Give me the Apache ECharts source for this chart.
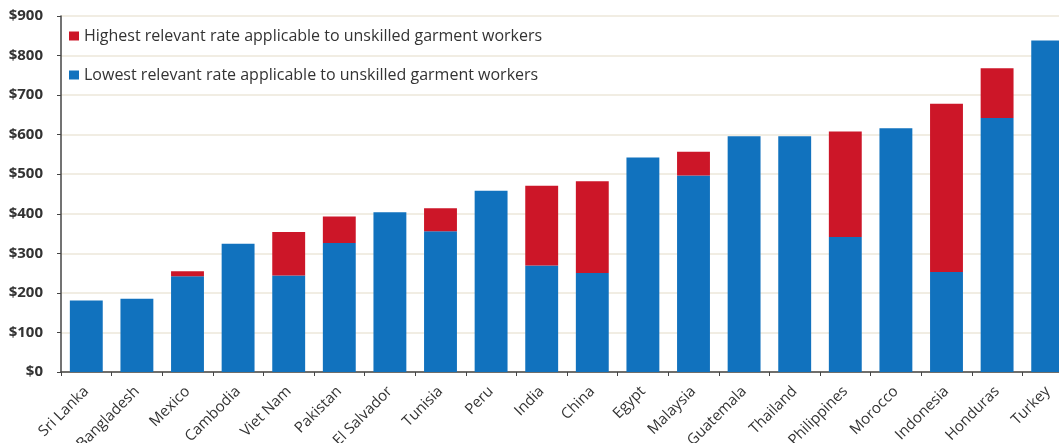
<!DOCTYPE html>
<html>
<head>
<meta charset="utf-8">
<script src="https://cdn.jsdelivr.net/npm/echarts@6/dist/echarts.min.js"></script>
<style>
  html, body { margin: 0; padding: 0; background: #fff; overflow: hidden; }
  /* wider than the window on purpose: the last bar is cut off in the original */
  #chart { width: 1073px; height: 443px; }
</style>
</head>
<body>
<div id="chart"></div>
<script>
// countries, sorted by monthly minimum wage
const countries = [
  'Sri Lanka', 'Bangladesh', 'Mexico', 'Cambodia', 'Viet Nam', 'Pakistan',
  'El Salvador', 'Tunisia', 'Peru', 'India', 'China', 'Egypt', 'Malaysia',
  'Guatemala', 'Thailand', 'Philippines', 'Morocco', 'Indonesia', 'Honduras', 'Turkey'
]
// lowest relevant rate (USD / month)
const lowestRate = [
  181, 185, 242, 324, 244, 326, 404, 356, 458, 269, 250, 542, 497,
  596, 596, 341, 616, 253, 642, 838
]
// highest relevant rate (USD / month)
const highestRate = [
  181, 185, 255, 324, 354, 393, 404, 414, 458, 471, 482, 542, 557,
  596, 596, 608, 616, 678, 768, 838
]
const yTicks = [0, 100, 200, 300, 400, 500, 600, 700, 800, 900]

const BLUE = '#1172be'
const RED = '#cc1628'
const FONT = '"Open Sans", Lato, sans-serif'

// red part is stacked on top of blue
const gapRate = highestRate.map((h, i) => h - lowestRate[i])

const chart = echarts.init(document.getElementById('chart'))
chart.setOption({
  animation: false,
  textStyle: { fontFamily: FONT },
  // outerBoundsMode none: rotated labels may run off the bottom, don't shrink the plot
  grid: { left: 61, top: 16, right: 0, height: 356, outerBoundsMode: 'none' },
  legend: {
    orient: 'vertical',
    left: 69, top: 28, padding: 0,
    itemWidth: 10, itemHeight: 9, itemGap: 23,
    icon: 'rect',
    textStyle: { fontSize: 16, lineHeight: 16, color: '#333', fontFamily: FONT },
    data: [
      'Highest relevant rate applicable to unskilled garment workers',
      'Lowest relevant rate applicable to unskilled garment workers'
    ]
  },
  xAxis: {
    type: 'category',
    data: countries,
    axisLine: { lineStyle: { color: '#444', width: 1.5 } },
    axisTick: { show: true, length: 4, lineStyle: { color: '#444' } },
    axisLabel: {
      rotate: 45, interval: 0, margin: 17,
      color: '#333', fontSize: 15, fontFamily: FONT
    }
  },
  yAxis: {
    type: 'value',
    min: yTicks[0], max: yTicks[yTicks.length - 1], interval: 100,
    axisLine: { show: true, lineStyle: { color: '#444', width: 1.5 } },
    axisTick: { show: true, length: 4, lineStyle: { color: '#444' } },
    axisLabel: {
      color: '#333', fontSize: 15, fontWeight: 'bold', margin: 18, fontFamily: FONT,
      formatter: v => '$' + v
    },
    splitLine: { lineStyle: { color: '#f1ede3', width: 2 } }
  },
  series: [
    {
      name: 'Lowest relevant rate applicable to unskilled garment workers',
      type: 'bar', stack: 'rate',
      data: lowestRate,
      barCategoryGap: '35%',
      itemStyle: { color: BLUE }
    },
    {
      name: 'Highest relevant rate applicable to unskilled garment workers',
      type: 'bar', stack: 'rate',
      data: gapRate,
      itemStyle: { color: RED }
    }
  ]
})
</script>
</body>
</html>
